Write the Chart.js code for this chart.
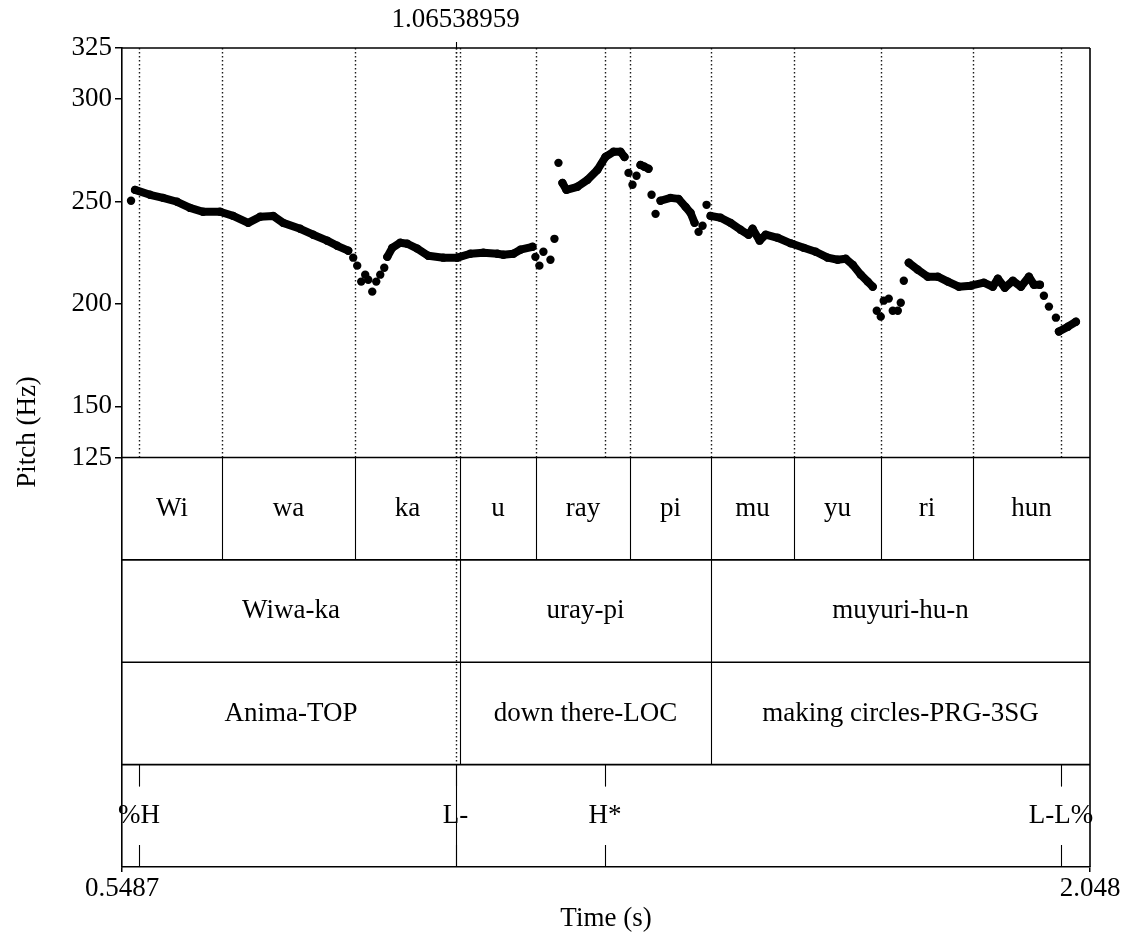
<!DOCTYPE html>
<html><head><meta charset="utf-8">
<script src="https://cdn.jsdelivr.net/npm/chart.js@4/dist/chart.umd.min.js"></script>
<style>html,body{margin:0;padding:0;background:#fff;}canvas{display:block;}</style>
</head><body>
<canvas id="c" width="1126" height="937"></canvas>
<script>
// ---------- DATA ----------
const pitchTime = [
 0.5627,
 0.5689,0.5921,0.6123,0.6340,0.6541,0.6743,0.7006,0.7208,0.7441,0.7627,0.7828,0.7983,0.8247,0.8448,0.8665,0.8820,0.8991,
 0.9068,0.9130,0.9192,0.9254,0.9301,0.9363,0.9425,0.9487,0.9549,
 0.9596,0.9673,0.9797,0.9906,1.0061,1.0231,1.0464,1.0681,1.0882,1.1084,1.1301,1.1394,1.1549,1.1658,1.1844,
 1.1890,1.1952,1.2014,1.2123,1.2185,1.2247,
 1.2309,1.2371,1.2541,1.2696,1.2851,1.2975,1.3099,1.3208,1.3270,
 1.3332,1.3394,1.3456,
 1.3518,1.3580,1.3642,
 1.3689,1.3751,
 1.3828,1.3983,1.4107,1.4216,1.4293,1.4355,
 1.4417,1.4479,1.4541,
 1.4603,1.4758,1.4913,1.5068,1.5192,1.5254,1.5363,1.5456,1.5642,1.5844,1.6045,1.6231,1.6417,1.6572,1.6696,1.6805,1.6929,1.7037,1.7115,
 1.7177,1.7239,1.7285,1.7363,1.7425,1.7503,1.7549,1.7596,
 1.7673,1.7813,1.7968,1.8123,1.8278,1.8448,1.8634,1.8836,1.8975,1.9053,1.9161,1.9285,1.9410,1.9534,1.9611,1.9704,
 1.9766,1.9844,1.9952,
 1.9999,2.0138,2.0262
];
const pitchHz = [
 250.4,
 255.7,253.3,251.8,249.9,246.9,245.0,245.0,243.0,239.6,242.6,243.0,239.6,236.7,233.8,230.9,228.4,226.0,
 222.6,218.7,210.9,214.3,211.8,206.0,210.9,214.3,217.7,
 223.0,227.4,229.9,229.4,227.0,223.5,222.6,222.6,224.5,225.0,224.5,224.0,224.5,226.5,227.9,
 223.0,218.7,225.5,221.6,231.8,268.9,
 259.1,255.7,257.2,260.6,265.5,271.8,274.3,274.3,271.8,
 264.0,258.2,262.6,
 267.9,267.0,266.0,
 253.3,244.0,
 250.4,251.8,251.3,247.4,244.5,239.6,
 235.2,238.2,248.4,
 243.0,242.1,239.6,236.2,233.8,236.7,230.9,233.8,232.3,229.6,227.4,225.5,222.6,221.6,222.1,219.1,214.3,210.9,208.4,
 196.7,193.8,201.6,202.6,196.7,196.7,200.6,211.3,
 220.1,216.7,213.3,213.3,210.9,208.4,208.9,210.4,208.4,212.3,207.9,211.3,208.4,213.3,209.4,209.4,
 204.0,198.7,193.3,
 186.5,188.9,191.3
];
// index ranges of contiguous voiced stretches (drawn joined)
const lineRuns = [[1,17],[27,41],[48,56],[60,62],[65,70],[74,92],[101,116],[120,122]];

const yTicks = [125,150,200,250,300,325];
const xTicks = [0.5487, 2.048];
const xTickLabels = ['0.5487','2.048'];

const syllables = ['Wi','wa','ka','u','ray','pi','mu','yu','ri','hun'];
const syllableBounds = [0.5487,0.7036,0.9096,1.0722,1.1900,1.3356,1.4610,1.5896,1.7244,1.8669,2.048];
const words = ['Wiwa-ka','uray-pi','muyuri-hu-n'];
const glosses = ['Anima-TOP','down there-LOC','making circles-PRG-3SG'];
const wordBounds = [0.5487,1.0722,1.4610,2.048];
const tones = ['%H','L-','H*','L-L%'];
const toneTimes = [0.5750,1.06539,1.2968,2.0032];
const cursorTime = 1.06538959;
const cursorLabel = '1.06538959';

// ---------- LAYOUT ----------
const FAMILY = '"Liberation Serif","Times New Roman",serif';
const FSIZE = 27;
const font = {family: FAMILY, size: FSIZE};
const PITCH_MIN = 125, PITCH_MAX = 325;
const ROW = 50;              // one annotation tier, in y-scale units below PITCH_MIN
const NTIERS = 4;
const tierEdge = i => PITCH_MIN - i*ROW;

const pts = pitchTime.map((t,i)=>({x:t, y:pitchHz[i]}));

function seg(ctx,x1,y1,x2,y2){ctx.beginPath();ctx.moveTo(x1,y1);ctx.lineTo(x2,y2);ctx.stroke();}

const annot = {
  id:'annot',
  beforeDatasetsDraw(chart){
    const {ctx, chartArea:a, scales:{x,y}} = chart;
    const bot = y.getPixelForValue(PITCH_MIN);
    ctx.save();
    ctx.strokeStyle = '#1a1a1a'; ctx.lineWidth = 1.4; ctx.setLineDash([1.6,2.4]);
    const lines = syllableBounds.slice(1,-1).concat(toneTimes);
    for (const t of lines){ const px = Math.round(x.getPixelForValue(t))+0.5; seg(ctx,px,a.top,px,bot); }
    const cx = Math.round(x.getPixelForValue(cursorTime))+0.5;
    seg(ctx,cx,a.top,cx,y.getPixelForValue(tierEdge(3)));
    ctx.restore();
  },
  afterDraw(chart){
    const {ctx, chartArea:a, scales:{x,y}} = chart;
    ctx.save();
    ctx.strokeStyle = '#000'; ctx.fillStyle = '#000';
    ctx.lineWidth = 1.6; ctx.setLineDash([]);
    seg(ctx,a.left,a.top,a.right,a.top);
    seg(ctx,a.right,a.top,a.right,a.bottom);
    for (let i=0;i<NTIERS;i++){ const py=y.getPixelForValue(tierEdge(i)); seg(ctx,a.left,py,a.right,py); }
    ctx.lineWidth = 1.1;
    const rowY = i => [y.getPixelForValue(tierEdge(i)), y.getPixelForValue(tierEdge(i+1))];
    ctx.font = FSIZE+'px '+FAMILY; ctx.textAlign='center'; ctx.textBaseline='middle';
    let [t1,b1] = rowY(0);
    syllableBounds.slice(1,-1).forEach(t=>{const px=Math.round(x.getPixelForValue(t))+0.5; seg(ctx,px,t1,px,b1);});
    syllables.forEach((s,i)=>{ const px=(x.getPixelForValue(syllableBounds[i])+x.getPixelForValue(syllableBounds[i+1]))/2; ctx.fillText(s,px,(t1+b1)/2); });
    [words,glosses].forEach((labels,k)=>{
      const [tt,bb] = rowY(k+1);
      wordBounds.slice(1,-1).forEach(t=>{const px=Math.round(x.getPixelForValue(t))+0.5; seg(ctx,px,tt,px,bb);});
      labels.forEach((s,i)=>{ const px=(x.getPixelForValue(wordBounds[i])+x.getPixelForValue(wordBounds[i+1]))/2; ctx.fillText(s,px,(tt+bb)/2); });
    });
    const [t4,b4] = rowY(3);
    const cx = Math.round(x.getPixelForValue(cursorTime))+0.5;
    tones.forEach((s,i)=>{
      const px = Math.round(x.getPixelForValue(toneTimes[i]))+0.5;
      ctx.fillText(s, x.getPixelForValue(toneTimes[i]), (t4+b4)/2);
      seg(ctx,px,t4,px,t4+22); seg(ctx,px,b4-22,px,b4);
    });
    seg(ctx,cx,t4,cx,b4);
    seg(ctx,cx,a.top-6,cx,a.top);
    ctx.fillText(cursorLabel, x.getPixelForValue(cursorTime), 20);
    ctx.translate(28, 432); ctx.rotate(-Math.PI/2);
    ctx.fillText('Pitch (Hz)', 0, 0);
    ctx.restore();
  }
};

const datasets = lineRuns.map(([s,e])=>({
  data: pts.slice(s,e+1), showLine:true, borderColor:'#000', borderWidth:8,
  borderCapStyle:'round', borderJoinStyle:'round', pointRadius:0, tension:0
}));
datasets.push({data: pts, showLine:false, pointRadius:4.2, pointBorderWidth:0,
  pointBackgroundColor:'#000', backgroundColor:'#000'});

new Chart(document.getElementById('c'), {
  type:'scatter',
  data:{datasets},
  options:{
    responsive:false, animation:false, devicePixelRatio:1,
    layout:{padding:{left:0, top:48, right:36, bottom:0}},
    plugins:{legend:{display:false}, tooltip:{enabled:false}},
    scales:{
      x:{type:'linear', min:xTicks[0], max:xTicks[1],
        afterFit(s){s.height=70;},
        afterBuildTicks(s){s.ticks = xTicks.map(v=>({value:v}));},
        ticks:{callback:(v,i)=>xTickLabels[i], font, color:'#000', maxRotation:0, autoSkip:false, padding:1},
        grid:{drawOnChartArea:false, color:'#000', tickLength:5, lineWidth:1.5},
        border:{color:'#000', width:1.6},
        title:{display:true, text:'Time (s)', font, color:'#000', padding:{top:0,bottom:2}}},
      y:{type:'linear', min:PITCH_MIN-NTIERS*ROW, max:PITCH_MAX,
        afterFit(s){s.width=122;},
        afterBuildTicks(s){s.ticks = yTicks.map(v=>({value:v}));},
        ticks:{font, color:'#000', padding:3, autoSkip:false},
        grid:{drawOnChartArea:false, color:'#000', tickLength:7, lineWidth:1.5},
        border:{color:'#000', width:1.6}}
    }
  },
  plugins:[annot]
});
</script>
</body></html>
